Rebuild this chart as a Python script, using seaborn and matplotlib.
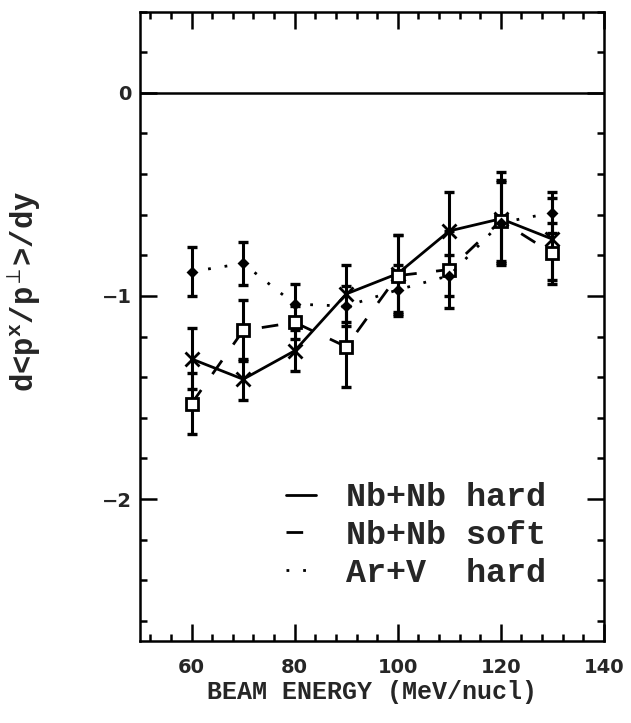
import matplotlib
matplotlib.use('Agg')
import matplotlib.pyplot as plt
from matplotlib.lines import Line2D
from matplotlib.ticker import MultipleLocator
import numpy as np
import pandas as pd
import seaborn as sns

# beam energies (MeV/nucl)
energy = [60, 70, 80, 90, 100, 110, 120, 130]

# Nb+Nb hard
nb_hard = [-1.31, -1.41, -1.27, -0.99, -0.89, -0.68, -0.62, -0.72]
nb_hard_err = [0.15, 0.10, 0.10, 0.14, 0.19, 0.19, 0.23, 0.20]

# Nb+Nb soft
nb_soft = [-1.53, -1.17, -1.13, -1.25, -0.90, -0.87, -0.63, -0.79]
nb_soft_err = [0.15, 0.15, 0.08, 0.20, 0.20, 0.19, 0.20, 0.15]

# Ar+V hard
arv_hard = [-0.88, -0.84, -1.04, -1.05, -0.97, -0.90, -0.64, -0.59]
arv_hard_err = [0.12, 0.105, 0.10, 0.10, 0.12, 0.10, 0.20, 0.10]

legend_labels = ['Nb+Nb hard', 'Nb+Nb soft', 'Ar+V  hard']

sns.set_style('ticks')
plt.rcParams['font.family'] = ['DejaVu Sans']
plt.rcParams['mathtext.fontset'] = 'custom'
plt.rcParams['mathtext.rm'] = 'Liberation Mono:bold'
plt.rcParams['mathtext.it'] = 'Liberation Mono:bold'
plt.rcParams['mathtext.bf'] = 'Liberation Mono:bold'

fig = plt.figure(figsize=(6.31, 7.23), dpi=100)
ax = fig.add_axes([0.222, 0.113, 0.735, 0.871])

series = [
    (nb_hard, nb_hard_err, '-', 'x', 10, 'black'),
    (nb_soft, nb_soft_err, (0, (6, 7)), 's', 8, 'white'),
    (arv_hard, arv_hard_err, (0, (1, 5)), 'D', 4, 'black'),
]

for vals, errs, ls, mk, ms, mfc in series:
    df = pd.DataFrame({'energy': energy, 'val': vals})
    ax.errorbar(energy, vals, yerr=errs, fmt='none', ecolor='black',
                elinewidth=2.2, capsize=3.5, capthick=2.4, zorder=2)
    sns.lineplot(data=df, x='energy', y='val', ax=ax, color='black',
                 linestyle=ls, linewidth=2, marker=mk, markersize=ms,
                 markerfacecolor=mfc, markeredgecolor='black',
                 markeredgewidth=2, zorder=3)

# zero line
ax.axhline(0, color='black', linewidth=1.8, zorder=1)

ax.set_xlim(50, 140)
ax.set_ylim(-2.7, 0.4)
ax.xaxis.set_major_locator(MultipleLocator(20))
ax.xaxis.set_minor_locator(MultipleLocator(4))
ax.yaxis.set_major_locator(MultipleLocator(1))
ax.yaxis.set_minor_locator(MultipleLocator(0.2))
ax.tick_params(which='both', direction='in', top=True, right=True,
               width=1.8, color='black')
ax.tick_params(which='major', length=12, labelsize=14)
ax.tick_params(axis='x', which='major', pad=12)
ax.tick_params(axis='y', which='major', pad=6)
ax.tick_params(which='minor', length=5)
for lab in ax.get_xticklabels() + ax.get_yticklabels():
    lab.set_fontweight('bold')
for sp in ax.spines.values():
    sp.set_linewidth(1.8)
    sp.set_color('black')

ax.set_xlabel('BEAM ENERGY (MeV/nucl)', fontsize=18, fontweight='bold',
              family='Liberation Mono', labelpad=2)
ax.set_ylabel(r'd<p$^{x}$/p$^{\perp}$>/dy', fontsize=22, fontweight='bold',
              family='Liberation Mono')
ax.yaxis.set_label_coords(-0.21, 0.555)

handles = [Line2D([], [], color='black', linestyle=s[2], linewidth=2)
           for s in series]
leg = ax.legend(handles, legend_labels, loc='lower right',
                bbox_to_anchor=(0.94, 0.036), frameon=False, handlelength=0.9,
                handletextpad=0.9, labelspacing=0.2,
                prop={'family': 'Liberation Mono', 'weight': 'bold', 'size': 24})

fig.savefig('out.png', dpi=100)
